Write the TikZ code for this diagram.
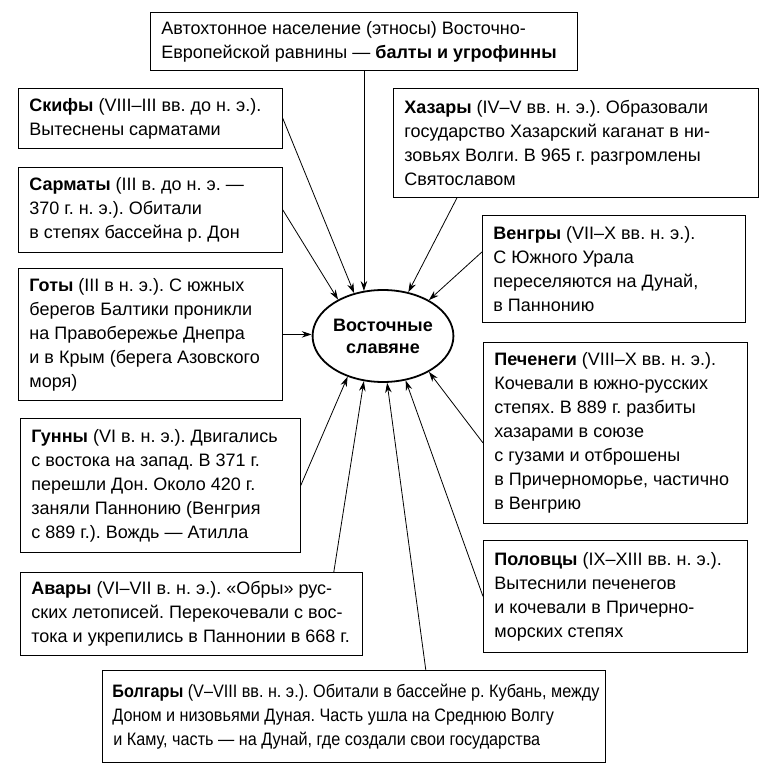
\documentclass[tikz,border=0pt]{standalone}
\usepackage{fontspec}
\setmainfont{Liberation Sans}
\newfontfamily\bolgfont{Liberation Sans}[FakeStretch=0.9]
\frenchspacing
\usetikzlibrary{shapes.geometric,arrows.meta}
\begin{document}
\begin{tikzpicture}[x=1pt,y=-1pt,
 box/.style={draw, line width=0.8pt, inner xsep=0pt, inner ysep=0pt, align=flush left, anchor=north west,
   font=\fontsize{18}{24}\selectfont, execute at begin node={\leftskip=11pt\relax}},
 arr/.style={-{Stealth[length=10pt,width=6.5pt]}, line width=0.8pt}]
\useasboundingbox (0,0) rectangle (768,775);

\node[box, text width=427, minimum height=58] (topbox) at (150,12)
 {Автохтонное население (этносы) Восточно-\\Европейской равнины — \textbf{балты и угрофинны}};

\node[box, text width=264, minimum height=60] (skify) at (18,88)
 {\textbf{Скифы} (VIII–III вв. до н.~э.).\\Вытеснены сарматами};
\node[box, text width=264, minimum height=85] (sarmaty) at (18,167)
 {\textbf{Сарматы} (III в. до н.~э. —\\370 г. н.~э.). Обитали\\в степях бассейна р. Дон};
\node[box, text width=264, minimum height=132] (goty) at (18,268)
 {\textbf{Готы} (III в н.~э.). С южных\\берегов Балтики проникли\\на Правобережье Днепра\\и в Крым (берега Азовского\\моря)};
\node[box, text width=280, minimum height=134] (gunny) at (20,418)
 {\textbf{Гунны} (VI в. н.~э.). Двигались\\с востока на запад. В 371 г.\\перешли Дон. Около 420 г.\\заняли Паннонию (Венгрия\\с 889 г.). Вождь — Атилла};
\node[box, text width=342, minimum height=83] (avary) at (20,572)
 {\textbf{Авары} (VI–VII в. н.~э.). «Обры» рус-\\ских летописей. Перекочевали с вос-\\тока и укрепились в Паннонии в 668 г.};

\node[box, text width=365, minimum height=109] (khazary) at (393,88)
 {\textbf{Хазары} (IV–V вв. н.~э.). Образовали\\государство Хазарский каганат в ни-\\зовьях Волги. В 965 г. разгромлены\\Святославом};
\node[box, text width=263, minimum height=107] (vengry) at (482,215)
 {\textbf{Венгры} (VII–X вв. н.~э.).\\С Южного Урала\\переселяются на Дунай,\\в Паннонию};
\node[box, text width=264, minimum height=181] (pechenegi) at (483,342)
 {\textbf{Печенеги} (VIII–X вв. н.~э.).\\Кочевали в южно-русских\\степях. В 889 г. разбиты\\хазарами в союзе\\с гузами и отброшены\\в Причерноморье, частично\\в Венгрию};
\node[box, text width=264, minimum height=112] (polovtsy) at (483,540)
 {\textbf{Половцы} (IX–XIII вв. н.~э.).\\Вытеснили печенегов\\и кочевали в Причерно-\\морских степях};

\node[box, text width=503, minimum height=92, font=\bolgfont\fontsize{18}{24}\selectfont] (bolgary) at (102,670)
 {\leftskip=10pt\relax\textbf{Болгары} (V–VIII вв. н.~э.). Обитали в бассейне р. Кубань, между\\Доном и низовьями Дуная. Часть ушла на Среднюю Волгу\\и Каму, часть — на Дунай, где создали свои государства};

\node[ellipse, draw, line width=1.8pt, minimum width=120, minimum height=92, inner sep=0pt,
  align=center, font=\bfseries\fontsize{18}{22}\selectfont] (es) at (383,336) {Восточные\\славяне};

\draw[arr] (topbox.south) -- (topbox.south |- es.114);
\draw[arr] (skify.east) -- (es.124.5);
\draw[arr] (sarmaty.east) -- (es.141);
\draw[arr] (goty.east) -- (goty.east -| es.west);
\draw[arr] (gunny.east) -- (es.-131);
\draw[arr] ([xshift=-29pt]avary.north east) -- (es.-113);
\draw[arr] ([xshift=-180pt]bolgary.north east) -- (es.-85);
\draw[arr] (polovtsy.west) -- (es.-63);
\draw[arr] ([yshift=-10pt]pechenegi.west) -- (es.-38);
\draw[arr] ([yshift=17pt]vengry.west) -- (es.38.5);
\draw[arr] ([xshift=64pt]khazary.south west) -- (es.60);
\end{tikzpicture}
\end{document}
